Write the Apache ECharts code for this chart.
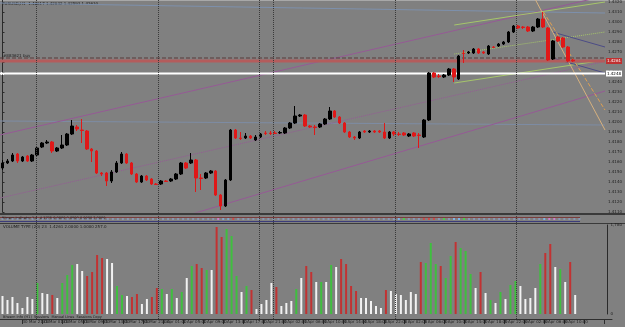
<!DOCTYPE html>
<html>
<head>
<meta charset="utf-8">
<script src="https://cdn.jsdelivr.net/npm/echarts@6/dist/echarts.min.js"></script>
<style>
html, body { margin: 0; padding: 0; background: #808080; }
#chart { width: 625px; height: 327px; }
</style>
</head>
<body>
<div id="chart"></div>
<script>
// EURUSD H1, 30 Mar 2011 17:00 .. 6 Apr 2011 — [open, close, low, high]
const candles = [
  [1.4154, 1.4159, 1.4152, 1.4162], [1.4159, 1.4161, 1.4158, 1.4163], [1.4161, 1.4167, 1.4160, 1.4169],
  [1.4168, 1.4161, 1.4159, 1.4169], [1.4161, 1.4165, 1.4160, 1.4166], [1.4166, 1.4161, 1.4160, 1.4167],
  [1.4161, 1.4167, 1.4160, 1.4168], [1.4167, 1.4174, 1.4166, 1.4176], [1.4175, 1.4179, 1.4174, 1.4180],
  [1.4179, 1.4180, 1.4178, 1.4182], [1.4180, 1.4171, 1.4169, 1.4181], [1.4171, 1.4174, 1.4170, 1.4175],
  [1.4174, 1.4177, 1.4173, 1.4187], [1.4177, 1.4188, 1.4176, 1.4189], [1.4188, 1.4196, 1.4187, 1.4202],
  [1.4195, 1.4193, 1.4191, 1.4197], [1.4192, 1.41915, 1.4179, 1.4203], [1.4191, 1.4173, 1.4172, 1.4192],
  [1.4173, 1.4171, 1.4160, 1.4174], [1.4171, 1.4149, 1.4148, 1.4172], [1.4149, 1.4148, 1.4146, 1.4150],
  [1.4149, 1.4141, 1.4136, 1.4150], [1.4141, 1.4150, 1.4139, 1.4152], [1.4150, 1.4159, 1.4149, 1.4161],
  [1.4159, 1.4168, 1.4158, 1.4170], [1.4168, 1.4159, 1.4158, 1.4169], [1.4159, 1.4148, 1.4147, 1.4160],
  [1.4148, 1.4140, 1.4139, 1.4149], [1.4140, 1.4146, 1.4139, 1.4147], [1.4146, 1.4142, 1.4141, 1.4147],
  [1.4143, 1.4138, 1.4137, 1.4144], [1.4138, 1.41375, 1.4137, 1.4139], [1.4138, 1.4141, 1.4137, 1.4142],
  [1.4141, 1.41405, 1.4140, 1.4142], [1.4141, 1.4143, 1.4140, 1.4144], [1.4143, 1.4148, 1.4142, 1.4149],
  [1.4148, 1.4159, 1.4147, 1.4160], [1.4159, 1.4154, 1.4153, 1.4160], [1.4159, 1.4162, 1.4158, 1.4169],
  [1.4162, 1.4144, 1.4130, 1.4163], [1.4144, 1.41435, 1.4132, 1.4148], [1.4144, 1.4149, 1.4143, 1.4150],
  [1.4149, 1.4151, 1.4148, 1.4152], [1.4151, 1.4127, 1.4126, 1.4152], [1.4127, 1.4116, 1.4112, 1.4128],
  [1.4116, 1.4142, 1.4115, 1.4143], [1.4142, 1.4192, 1.4141, 1.4193], [1.4192, 1.4184, 1.4183, 1.4193],
  [1.4184, 1.41835, 1.4182, 1.4190], [1.4184, 1.4186, 1.4183, 1.4189], [1.4186, 1.4184, 1.4183, 1.4187],
  [1.4182, 1.4185, 1.4181, 1.4187], [1.4185, 1.4188, 1.4184, 1.4189], [1.4189, 1.41885, 1.4187, 1.4191],
  [1.4189, 1.41885, 1.4187, 1.4191], [1.4189, 1.41885, 1.4188, 1.4191], [1.4189, 1.41895, 1.4188, 1.4191],
  [1.4189, 1.4194, 1.4188, 1.4195], [1.4194, 1.4199, 1.4193, 1.4200], [1.4199, 1.4206, 1.4198, 1.4216],
  [1.4206, 1.4207, 1.4205, 1.4208], [1.4207, 1.4196, 1.4195, 1.4208], [1.4196, 1.4195, 1.4194, 1.4197],
  [1.4195, 1.41945, 1.4187, 1.4197], [1.4195, 1.4198, 1.4194, 1.4199], [1.4198, 1.4203, 1.4197, 1.4204],
  [1.4203, 1.4211, 1.4202, 1.4215], [1.4211, 1.4205, 1.4204, 1.4212], [1.4205, 1.4199, 1.4198, 1.4206],
  [1.4199, 1.4190, 1.4189, 1.4200], [1.4190, 1.4185, 1.4184, 1.4191], [1.4185, 1.4184, 1.4182, 1.4186],
  [1.4184, 1.4190, 1.4183, 1.4191], [1.4191, 1.4190, 1.4189, 1.4192], [1.4190, 1.4191, 1.4189, 1.4192],
  [1.4191, 1.4190, 1.4189, 1.4192], [1.4191, 1.4190, 1.4189, 1.4192], [1.4190, 1.4184, 1.4183, 1.4199],
  [1.4184, 1.4190, 1.4183, 1.4191], [1.4190, 1.4188, 1.4186, 1.4191], [1.4188, 1.41875, 1.4186, 1.4190],
  [1.4189, 1.4187, 1.4186, 1.4190], [1.4186, 1.4188, 1.4185, 1.4189], [1.4189, 1.4186, 1.4185, 1.4190],
  [1.4187, 1.41865, 1.4174, 1.4189], [1.4185, 1.4202, 1.4184, 1.4203], [1.4202, 1.4249, 1.4201, 1.4250],
  [1.4249, 1.4245, 1.4244, 1.4250], [1.4246, 1.42455, 1.4244, 1.4248], [1.4245, 1.4247, 1.4244, 1.4248],
  [1.4247, 1.4253, 1.4246, 1.4254], [1.4253, 1.4245, 1.4240, 1.4254], [1.4243, 1.4266, 1.4242, 1.4267],
  [1.4269, 1.42685, 1.4259, 1.4272], [1.4269, 1.4270, 1.4268, 1.4271], [1.4269, 1.4273, 1.4268, 1.4274],
  [1.4273, 1.4269, 1.4268, 1.4274], [1.4270, 1.4269, 1.4268, 1.4271], [1.4268, 1.4276, 1.4267, 1.4277],
  [1.4275, 1.42745, 1.4274, 1.4276], [1.4276, 1.4278, 1.4275, 1.4279], [1.4278, 1.4280, 1.4277, 1.4281],
  [1.4280, 1.4290, 1.4279, 1.4291], [1.4290, 1.4296, 1.4289, 1.4297], [1.4296, 1.4294, 1.4293, 1.4297],
  [1.4295, 1.42945, 1.4293, 1.4296], [1.4295, 1.4291, 1.4290, 1.4296], [1.4291, 1.4295, 1.4290, 1.4296],
  [1.4295, 1.4303, 1.4294, 1.4304], [1.4303, 1.4295, 1.4294, 1.4310], [1.4294, 1.4262, 1.4261, 1.4295],
  [1.4263, 1.4281, 1.4262, 1.4282], [1.4285, 1.4281, 1.4280, 1.4286], [1.4284, 1.4275, 1.4274, 1.4285],
  [1.4275, 1.4261, 1.4260, 1.4276], [1.4262, 1.4261, 1.4260, 1.4263]
];

// tick volume per bar and its colour class (w = neutral, g = up, r = down)
const volumes = [
  360, 280, 340, 220, 120, 340, 300, 620, 420, 400,
  380, 320, 620, 780, 980, 1000, 860, 760, 840, 1180,
  1120, 1100, 1020, 560, 380, 360, 340, 400, 200, 300,
  340, 520, 500, 400, 500, 320, 440, 720, 960, 1000,
  920, 880, 880, 1740, 1540, 1700, 1560, 760, 440, 560,
  480, 100, 200, 280, 620, 540, 160, 220, 260, 500,
  720, 960, 840, 640, 640, 640, 980, 940, 1100, 1000,
  560, 460, 320, 320, 260, 160, 120, 480, 460, 400,
  380, 280, 440, 400, 1040, 1020, 1420, 1000, 960, 720,
  1160, 1440, 1320, 1260, 800, 520, 840, 420, 280, 220,
  440, 300, 580, 660, 560, 300, 320, 520, 1000, 1220,
  1400, 940, 900, 640, 1040, 380
];
const volumeTypes = (
  'wwwwwwwgww' + 'rwgggwwrrr' + 'rwwggwrrww' + 'rrgwgwgwgr' + 'rgwrrgggwg' + 'rwwwwrwwwg' +
  'wrrwgwgwrr' + 'rrwwwwwrww' + 'wwwwrgggrg' + 'grgggwrwgw' + 'gwggwwwwgr' + 'rwgwrw'
).split('');

// time axis labels, one every 4 bars
const timeLabels = [
  '30 Mar 2011', '30 Mar 21:00', '31 Mar 01:00', '31 Mar 05:00', '31 Mar 09:00', '31 Mar 13:00',
  '31 Mar 17:00', '31 Mar 21:00', '1 Apr 01:00', '1 Apr 05:00', '1 Apr 09:00', '1 Apr 13:00',
  '1 Apr 17:00', '1 Apr 21:00', '4 Apr 02:00', '4 Apr 06:00', '4 Apr 10:00', '4 Apr 14:00',
  '4 Apr 18:00', '4 Apr 22:00', '5 Apr 02:00', '5 Apr 06:00', '5 Apr 10:00', '5 Apr 14:00',
  '5 Apr 18:00', '5 Apr 22:00', '6 Apr 02:00', '6 Apr 06:00', '6 Apr 10:00'
];

// price levels
const bidPrice = 1.4261;
const orderPrice = 1.4264;
const whiteLevel = 1.42485;

// period separators, in bar units
const separators = [6.8, 31, 51.2, 54, 78.2, 102.4];

// hand-drawn objects: [bar, price] endpoints
const channelUpper = [[-0.5, 1.4187], [121.5, 1.4326]];
const channelMid = [[-0.5, 1.4124], [121.5, 1.42606]];
const channelLower = [[37.5, 1.4107], [121.5, 1.4231]];
const blueTop = [[-0.5, 1.4319], [121.5, 1.4309]];
const blueMid = [[-0.5, 1.4201], [121.5, 1.4197]];
const greenUpper = [[91.1, 1.4297], [121.5, 1.4320]];
const greenMid = [[91.1, 1.4268], [121.5, 1.4290]];
const greenLower = [[91.1, 1.4239], [121.5, 1.4262]];
const navyUpper = [[110.9, 1.4290], [121.5, 1.4275]];
const navyLower = [[110.9, 1.4264], [121.5, 1.4249]];
const tanLine = [[107.5, 1.4322], [121.5, 1.4192]];
const orangeLine = [[109.1, 1.4310], [121.5, 1.4212]];

// bars highlighted on the indicator strip
const stripHighlights = { 43: '#e080e0', 44: '#80b0e0', 45: '#80b0e0', 46: '#e04040', 79: '#80c0ff', 80: '#40e040', 84: '#e04040', 85: '#e04040', 86: '#e04040', 88: '#40e040', 90: '#80c0ff', 91: '#80c0ff', 92: '#40e040', 108: '#80c0ff', 109: '#e080e0', 110: '#e080e0' };

const NCAT = 122;
const cats = Array.from({ length: NCAT }, (_, i) => i);
const volColors = { w: '#f2f2f2', g: '#3fbf3f', r: '#c23232' };
const txt = '#1c1c1c';
const fontFamily = 'DejaVu Sans';

function trend(data, color, type) {
  return {
    type: 'line', xAxisIndex: 1, yAxisIndex: 0, data, symbol: 'none', silent: true,
    lineStyle: { color, width: 1, type: type || 'solid' }, z: 1
  };
}

// a full-width horizontal price line, with an optional price tag on the scale
function level(price, color, width, type, tag) {
  return {
    type: 'line', xAxisIndex: 1, yAxisIndex: 0, symbol: 'none', silent: true, z: 2,
    data: [[-0.5, price], [NCAT - 0.5, price]],
    lineStyle: { color, width, type },
    endLabel: tag
      ? {
          show: true, distance: 1, formatter: price.toFixed(4), fontSize: 4,
          color: tag.color, backgroundColor: tag.bg, padding: [1, 1]
        }
      : { show: false }
  };
}

const chart = echarts.init(document.getElementById('chart'), null, { renderer: 'canvas' });

chart.setOption({
  backgroundColor: '#808080',
  animation: false,
  textStyle: { fontFamily },
  grid: [
    { left: 0, right: 13, top: 0, height: 212 },
    { left: 0, right: 13, top: 225, height: 89 },
    { left: 0, right: 13, top: 314, height: 5 },
    { left: 0, right: 13, top: 217, height: 4 },
    { left: 0, right: 13, top: 0, height: 319 }
  ],
  xAxis: [
    { type: 'category', gridIndex: 0, data: cats, show: false },
    { type: 'value', gridIndex: 0, min: -0.5, max: NCAT - 0.5, show: false },
    { type: 'category', gridIndex: 1, data: cats, show: false },
    {
      type: 'category', gridIndex: 2, data: cats,
      axisLine: { show: true, lineStyle: { color: '#2e2e2e', width: 1 } },
      axisTick: { show: true, alignWithLabel: true, interval: 3, length: 5, lineStyle: { color: '#2e2e2e' } },
      axisLabel: {
        interval: 3, align: 'left', margin: 1, fontSize: 4, color: txt,
        formatter: (v, i) => timeLabels[i / 4] || ''
      }
    },
    { type: 'value', gridIndex: 3, min: -0.5, max: NCAT - 0.5, show: false },
    { type: 'value', gridIndex: 4, min: -0.5, max: NCAT - 0.5, show: false }
  ],
  yAxis: [
    {
      type: 'value', gridIndex: 0, position: 'right', min: 1.4110, max: 1.4322, interval: 0.001,
      splitLine: { show: false },
      axisLine: { show: true, lineStyle: { color: '#2a2a2a' } },
      axisTick: { show: true, length: 2, lineStyle: { color: '#2a2a2a' } },
      axisLabel: { fontSize: 4, color: txt, margin: 3, showMaxLabel: false, formatter: (v) => v.toFixed(4) }
    },
    {
      type: 'value', gridIndex: 1, position: 'right', min: 0, max: 1780, interval: 1780,
      splitLine: { show: false },
      axisLine: { show: true, lineStyle: { color: '#2a2a2a' } },
      axisTick: { show: false },
      axisLabel: { fontSize: 4, color: txt, margin: 3 }
    },
    { type: 'value', gridIndex: 2, show: false },
    { type: 'value', gridIndex: 3, min: 0, max: 1, show: false },
    { type: 'value', gridIndex: 4, min: 0, max: 1, show: false }
  ],
  series: [
    // period separators through every panel
    {
      type: 'line', xAxisIndex: 5, yAxisIndex: 4, data: [], silent: true,
      markLine: {
        symbol: ['none', 'none'], silent: true, label: { show: false },
        lineStyle: { color: '#3a3a3a', type: 'dotted', width: 1 },
        data: separators.map((v) => ({ xAxis: v }))
      }
    },
    trend(blueTop, '#7d90ac'),
    trend(blueMid, '#7d8ca4'),
    trend(channelUpper, '#955a95'),
    trend(channelMid, '#955a95', 'dotted'),
    trend(channelLower, '#955a95'),
    trend(greenUpper, '#a6c66a'),
    trend(greenMid, '#a6c66a', 'dotted'),
    trend(greenLower, '#a6c66a'),
    trend(navyUpper, '#4c4c86'),
    trend(navyLower, '#4c4c86'),
    trend(tanLine, '#d6b07e'),
    trend(orangeLine, '#e0a050', 'dashed'),
    level(orderPrice, '#5a3a3a', 1, 'dashed'),
    level(bidPrice, '#b45c5c', 3, 'solid', { color: '#ffffff', bg: '#c03030' }),
    level(whiteLevel, '#ffffff', 2, 'solid', { color: '#000000', bg: '#ffffff' }),
    {
      type: 'candlestick', xAxisIndex: 0, yAxisIndex: 0, data: candles, barWidth: 3, z: 3,
      itemStyle: { color: '#000000', color0: '#e01818', borderColor: '#000000', borderColor0: '#e01818', borderWidth: 1 }
    },
    {
      type: 'bar', xAxisIndex: 2, yAxisIndex: 1, barWidth: 2, silent: true,
      data: volumes.map((v, i) => ({ value: v, itemStyle: { color: volColors[volumeTypes[i]] } }))
    },
    {
      type: 'scatter', xAxisIndex: 4, yAxisIndex: 3, silent: true, symbol: 'rect', symbolSize: [2, 2],
      data: volumes.map((v, i) => ({
        value: [i, 0.5],
        itemStyle: { color: stripHighlights[i] || '#8a9cc0' }
      }))
    }
  ],
  graphic: [
    { type: 'rect', left: 0, top: 0, shape: { width: 625, height: 1 }, style: { fill: '#a8a8a8' }, silent: true },
    { type: 'rect', left: 0, top: 213, shape: { width: 625, height: 2 }, style: { fill: '#3a3a3a' }, silent: true },
    { type: 'rect', left: 0, top: 217, shape: { width: 580, height: 1 }, style: { fill: '#7a3c3c' }, silent: true },
    { type: 'rect', left: 0, top: 221, shape: { width: 580, height: 1 }, style: { fill: '#3c3c7a' }, silent: true },
    { type: 'rect', left: 0, top: 223, shape: { width: 625, height: 1 }, style: { fill: '#3a3a3a' }, silent: true },
    { type: 'rect', left: 1, top: 72, shape: { width: 3, height: 3 }, style: { fill: '#ffffff' }, silent: true },
    { type: 'text', left: 2, top: 2, silent: true, style: { text: 'EURUSD,H1  1.42617 1.42632 1.42593 1.42610', fontSize: 4, fill: txt, fontFamily } },
    { type: 'text', left: 3, top: 54, silent: true, style: { text: '#883621 buy', fontSize: 4, fill: txt, fontFamily } },
    { type: 'text', left: 2, top: 216.5, silent: true, style: { text: 'Bheem Indicator 1.4  4.1225 0.0000 0.0000 0.0000 2.0000', fontSize: 3.5, fill: txt, fontFamily } },
    { type: 'text', left: 3, top: 225, silent: true, style: { text: 'VOLUME TYPE (20) 23  1.4261 2.0000 1.0000 257.0', fontSize: 4, fill: txt, fontFamily } },
    { type: 'text', left: 3, top: 315, silent: true, style: { text: 'Bheem Info (H1)  Sessions  Manual Lines  Sessions Copy', fontSize: 3.5, fill: txt, fontFamily } }
  ]
});
</script>
</body>
</html>
